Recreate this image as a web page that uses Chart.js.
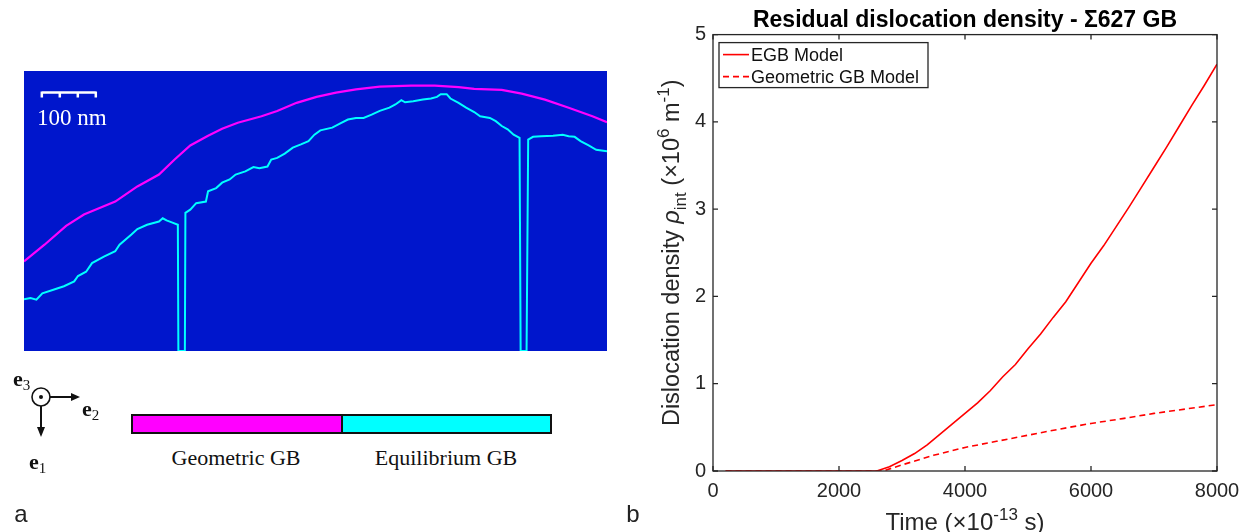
<!DOCTYPE html>
<html>
<head>
<meta charset="utf-8">
<script src="https://cdn.jsdelivr.net/npm/chart.js@4.4.1/dist/chart.umd.min.js"></script>
<style>
  body { margin: 0; width: 1250px; height: 532px; background: #fff; position: relative; overflow: hidden; font-family: "Liberation Serif", "Times New Roman", serif; }
  #gbMap { position: absolute; left: 24px; top: 71px; }
  #rhoChart { position: absolute; left: 620px; top: 0; }
  .txt { position: absolute; white-space: nowrap; color: #111; transform: translate(-50%, -50%); }
  .gbLbl { font-size: 22px; }
  .vec { font-size: 22px; font-weight: bold; transform: none; }
  .vec sub { font-size: 15px; font-weight: normal; vertical-align: -4px; }
  .panel { font-family: "Liberation Sans", Arial, sans-serif; font-size: 24px; color: #222; }
  #gbBar { position: absolute; left: 131px; top: 414px; width: 421px; height: 20px; box-sizing: border-box; border: 2px solid #111; display: flex; }
  #gbBar div { flex: 1; }
</style>
</head>
<body>
<canvas id="gbMap" width="583" height="280"></canvas>
<canvas id="rhoChart" width="630" height="532"></canvas>

<svg style="position:absolute;left:0;top:0" width="130" height="480">
  <circle cx="41" cy="397" r="9" fill="#fff" stroke="#111" stroke-width="1.6"/>
  <circle cx="41" cy="397" r="2" fill="#111"/>
  <line x1="50" y1="397" x2="73" y2="397" stroke="#111" stroke-width="2"/>
  <polygon points="71,393 80,397 71,401" fill="#111"/>
  <line x1="41" y1="406" x2="41" y2="429" stroke="#111" stroke-width="2"/>
  <polygon points="37,427 41,437 45,427" fill="#111"/>
</svg>
<div class="txt vec" style="left:13px;top:366px">e<sub>3</sub></div>
<div class="txt vec" style="left:82px;top:396px">e<sub>2</sub></div>
<div class="txt vec" style="left:29px;top:449px">e<sub>1</sub></div>

<div id="gbBar"><div style="background:#ff00ff"></div><div style="background:#00ffff;border-left:2px solid #111"></div></div>
<div class="txt gbLbl" style="left:236px;top:458px">Geometric GB</div>
<div class="txt gbLbl" style="left:446px;top:458px">Equilibrium GB</div>

<div class="txt panel" style="left:21px;top:514px">a</div>
<div class="txt panel" style="left:633px;top:514px">b</div>

<script>
// ---- panel a: boundary traces (nm, measured from the lower left corner of the map)
const geomX = [0, 38, 78, 111, 140, 169, 210, 250, 279, 308, 341, 367, 396, 440, 469, 505, 542, 578, 615, 659, 717, 761, 805, 834, 885, 922, 965, 1009, 1053, 1080];
const geomY = [166, 197, 232, 253, 265, 277, 305, 327, 355, 381, 399, 412, 423, 435, 445, 460, 471, 479, 485, 490, 492, 492, 489, 486, 484, 477, 466, 451, 435, 424];

const eqX = [0, 12, 23, 34, 53, 74, 93, 100, 115, 126, 148, 169, 177, 199, 210, 228, 250, 257, 264, 275, 285,
  286, 298, 299, 308, 319, 337, 341, 356, 367, 381, 392, 410, 425, 436, 451, 458, 469, 483, 498, 513, 527, 538, 549,
  571, 586, 600, 615, 629, 644, 659, 677, 688, 699, 706, 721, 739, 754, 765, 772, 783, 790, 805, 819, 834, 845, 863,
  874, 885, 896, 907, 918, 920, 931, 934, 943, 958, 980, 998, 1009, 1020, 1031, 1046, 1060, 1080];
const eqY = [96, 98, 95, 107, 113, 120, 129, 139, 147, 163, 175, 185, 197, 216, 226, 234, 240, 246, 242, 238, 234,
  0, 0, 256, 262, 274, 277, 296, 302, 312, 318, 327, 333, 341, 339, 342, 355, 358, 366, 377, 383, 389, 401, 409,
  414, 422, 429, 432, 432, 438, 445, 451, 457, 465, 461, 463, 466, 468, 471, 476, 476, 468, 460, 451, 443, 435, 432,
  426, 417, 411, 401, 395, 0, 0, 392, 397, 398, 399, 401, 398, 397, 389, 381, 373, 370];

const mapWidthNm = 1080;
const mapHeightNm = 519;
const scaleBarNm = 100;

// ---- panel b: residual dislocation density
const egbTime = [200, 2600, 2800, 3000, 3200, 3400, 3600, 3800, 4000, 4200, 4400, 4600, 4800, 5000, 5200, 5400, 5600,
  5800, 6000, 6200, 6400, 6600, 6800, 7000, 7200, 7400, 7600, 7800, 8000];
const egbRho = [0, 0, 0.05, 0.12, 0.2, 0.3, 0.42, 0.54, 0.66, 0.78, 0.92, 1.08, 1.22, 1.4, 1.57, 1.76, 1.94,
  2.16, 2.38, 2.58, 2.8, 3.02, 3.25, 3.48, 3.71, 3.95, 4.19, 4.42, 4.66];
const geoTime = [200, 2700, 3000, 3500, 4000, 4500, 5000, 5500, 6000, 6500, 7000, 7500, 8000];
const geoRho = [0, 0, 0.07, 0.18, 0.27, 0.34, 0.41, 0.48, 0.545, 0.6, 0.66, 0.71, 0.76];

const seriesNames = ['EGB Model', 'Geometric GB Model'];
const xTicks = [0, 2000, 4000, 6000, 8000];
const yTicks = [0, 1, 2, 3, 4, 5];

const toXY = (xs, ys) => xs.map((x, i) => ({ x: x, y: ys[i] }));

const mapBackground = {
  id: 'mapBackground',
  beforeDraw(chart) {
    const c = chart.ctx;
    c.save();
    c.fillStyle = '#0016cc';
    c.fillRect(0, 0, chart.width, chart.height);
    c.restore();
  },
  afterDatasetsDraw(chart) {
    const c = chart.ctx, sx = chart.scales.x, sy = chart.scales.y;
    const x0 = sx.getPixelForValue(33), x1 = sx.getPixelForValue(33 + scaleBarNm);
    const y0 = sy.getPixelForValue(479);
    c.save();
    c.strokeStyle = '#fff';
    c.lineWidth = 2.5;
    c.beginPath();
    c.moveTo(x0, y0); c.lineTo(x1, y0);
    [0, 1 / 3, 2 / 3, 1].forEach(f => {
      const x = x0 + (x1 - x0) * f;
      c.moveTo(x, y0 - 1); c.lineTo(x, y0 + 5);
    });
    c.stroke();
    c.fillStyle = '#fff';
    c.font = '23px "Liberation Serif", serif';
    c.textAlign = 'left';
    c.textBaseline = 'middle';
    c.fillText('100 nm', sx.getPixelForValue(24), sy.getPixelForValue(430));
    c.restore();
  }
};

new Chart(document.getElementById('gbMap'), {
  type: 'line',
  data: {
    datasets: [
      { data: toXY(geomX, geomY), borderColor: '#ff00ff', borderWidth: 2.2 },
      { data: toXY(eqX, eqY), borderColor: '#00ffff', borderWidth: 2 }
    ]
  },
  options: {
    responsive: false,
    animation: false,
    layout: { padding: 0 },
    elements: { point: { radius: 0 }, line: { tension: 0 } },
    plugins: { legend: { display: false }, tooltip: { enabled: false } },
    scales: {
      x: { type: 'linear', min: 0, max: mapWidthNm, display: false },
      y: { type: 'linear', min: 0, max: mapHeightNm, display: false }
    }
  },
  plugins: [mapBackground]
});

// rich text helper for sub/superscripts in axis titles
function drawRich(c, segs, cx, y, size, fam) {
  const parts = segs.map(s => {
    const small = s.k === 'sup' || s.k === 'sub';
    const font = (s.i ? 'italic ' : '') + (small ? Math.round(size * 0.72) : size) + 'px ' + fam;
    c.font = font;
    return { t: s.t, font: font, w: c.measureText(s.t).width, dy: s.k === 'sup' ? -size * 0.42 : s.k === 'sub' ? size * 0.3 : 0 };
  });
  const total = parts.reduce((a, p) => a + p.w, 0);
  let x = cx - total / 2;
  c.textAlign = 'left';
  c.textBaseline = 'alphabetic';
  parts.forEach(p => { c.font = p.font; c.fillText(p.t, x, y + p.dy); x += p.w; });
}

const yTitle = [{ t: 'Dislocation density ' }, { t: 'ρ', i: 1 }, { t: 'int', k: 'sub' }, { t: ' (×10' }, { t: '6', k: 'sup' },
  { t: ' m' }, { t: '-1', k: 'sup' }, { t: ')' }];
const xTitle = [{ t: 'Time (×10' }, { t: '-13', k: 'sup' }, { t: ' s)' }];
const sans = '"Liberation Sans", Arial, sans-serif';

const matlabFrame = {
  id: 'matlabFrame',
  afterDraw(chart) {
    const c = chart.ctx, a = chart.chartArea, sx = chart.scales.x, sy = chart.scales.y;
    c.save();
    c.strokeStyle = '#262626';
    c.lineWidth = 1.3;
    c.strokeRect(a.left, a.top, a.right - a.left, a.bottom - a.top);
    c.beginPath();
    yTicks.forEach(v => {
      const y = sy.getPixelForValue(v);
      c.moveTo(a.left, y); c.lineTo(a.left + 5, y);
      c.moveTo(a.right, y); c.lineTo(a.right - 5, y);
    });
    xTicks.forEach(v => {
      const x = sx.getPixelForValue(v);
      c.moveTo(x, a.bottom); c.lineTo(x, a.bottom - 5);
      c.moveTo(x, a.top); c.lineTo(x, a.top + 5);
    });
    c.stroke();

    // legend box
    const lx = a.left + 6, ly = a.top + 8, lw = 209, lh = 45;
    c.fillStyle = '#fff';
    c.fillRect(lx, ly, lw, lh);
    c.lineWidth = 1.3;
    c.strokeRect(lx, ly, lw, lh);
    chart.data.datasets.forEach((ds, i) => {
      const y = ly + 12 + i * 22;
      c.strokeStyle = ds.borderColor;
      c.lineWidth = 1.6;
      c.setLineDash(ds.borderDash || []);
      c.beginPath(); c.moveTo(lx + 4, y); c.lineTo(lx + 30, y); c.stroke();
      c.setLineDash([]);
      c.fillStyle = '#111';
      c.font = '18px ' + sans;
      c.textAlign = 'left';
      c.textBaseline = 'middle';
      c.fillText(ds.label, lx + 32, y + 1);
    });

    // axis titles
    c.fillStyle = '#262626';
    drawRich(c, xTitle, (a.left + a.right) / 2, 530, 24, sans);
    c.translate(a.left - 34, (a.top + a.bottom) / 2);
    c.rotate(-Math.PI / 2);
    drawRich(c, yTitle, 0, 0, 23.5, sans);
    c.restore();
  }
};

new Chart(document.getElementById('rhoChart'), {
  type: 'line',
  data: {
    datasets: [
      { label: seriesNames[0], data: toXY(egbTime, egbRho), borderColor: '#ff0000', borderWidth: 1.6 },
      { label: seriesNames[1], data: toXY(geoTime, geoRho), borderColor: '#ff0000', borderWidth: 1.6, borderDash: [6, 4] }
    ]
  },
  options: {
    responsive: false,
    animation: false,
    layout: { padding: { left: 0, right: 33, top: 0, bottom: 0 } },
    elements: { point: { radius: 0 }, line: { tension: 0 } },
    plugins: {
      legend: { display: false },
      tooltip: { enabled: false },
      title: {
        display: true,
        fullSize: false,
        text: 'Residual dislocation density - Σ627 GB',
        color: '#000',
        font: { family: sans, size: 23, weight: 'bold' },
        padding: { top: 7, bottom: 0 }
      }
    },
    scales: {
      x: {
        type: 'linear', min: 0, max: 8000,
        grid: { display: false, drawTicks: false },
        border: { display: false },
        afterBuildTicks: s => { s.ticks = xTicks.map(v => ({ value: v })); },
        ticks: { color: '#262626', font: { family: sans, size: 20 }, padding: 8, maxRotation: 0, callback: v => String(v) },
        afterFit: s => { s.height = 61; }
      },
      y: {
        type: 'linear', min: 0, max: 5,
        grid: { display: false, drawTicks: false },
        border: { display: false },
        afterBuildTicks: s => { s.ticks = yTicks.map(v => ({ value: v })); },
        ticks: { color: '#262626', font: { family: sans, size: 20 }, padding: 7, callback: v => String(v) },
        afterFit: s => { s.width = 93; }
      }
    }
  },
  plugins: [matlabFrame]
});
</script>
</body>
</html>
